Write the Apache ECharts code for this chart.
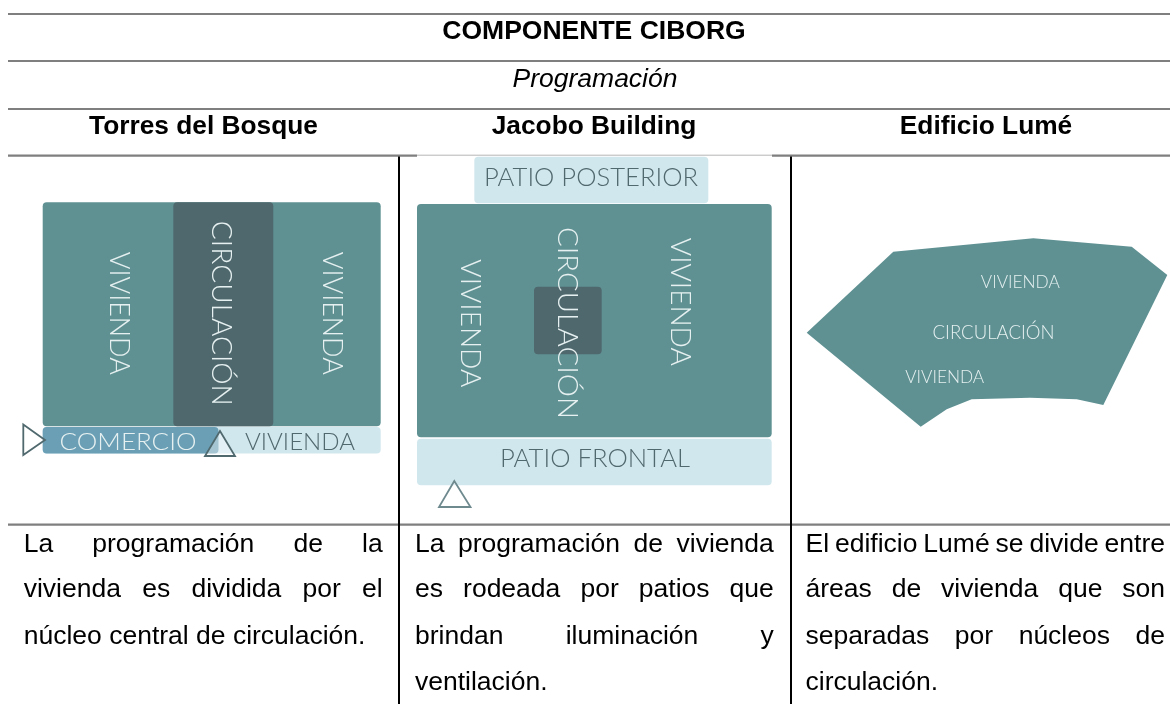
<!DOCTYPE html>
<html><head><meta charset="utf-8">
<style>html,body{margin:0;padding:0;background:#fff}#c{width:1170px;height:704px}</style>
<script src="https://cdn.jsdelivr.net/npm/echarts@6/dist/echarts.min.js"></script>
</head><body><div id="c"></div>
<script>
// ---- content ----
const tableTitle = 'COMPONENTE CIBORG';
const tableSubtitle = 'Programación';
const buildings = ['Torres del Bosque', 'Jacobo Building', 'Edificio Lumé'];
const descriptionTorres = ['La programación de la', 'vivienda es dividida por el', 'núcleo central de circulación.'];
const descriptionJacobo = ['La programación de vivienda', 'es rodeada por patios que', 'brindan iluminación y', 'ventilación.'];
const descriptionLume = ['El edificio Lumé se divide entre', 'áreas de vivienda que son', 'separadas por núcleos de', 'circulación.'];
const lumeOutline = [[806.7,332.7],[893.3,251.7],[1033.3,238.3],[1131.7,246.7],[1167.3,275],[1103.3,405],[1076.7,399.3],[1030,397.7],[971.7,399.3],[946.7,409.3],[920.7,426.7]];

// ---- page geometry (pixel scale of the hidden axes) ----
const W = 1170, H = 704;
const C = {teal:'#5f9193', dark:'#4f686e', light:'#d1e7ee', shop:'#6a9fb6', ink:'#50696e', pale:'#e6f0f0', rule:'#7f7f7f'};
const rects = [
  [42.7,202.3,380.7,426.3,C.teal],[173.3,202.3,273.3,426.3,C.dark],
  [42.7,427,380.7,453.5,C.light],[42.7,427,218.5,453.5,C.shop],
  [474.3,156.7,708.3,203.3,C.light],[417,204,771.7,437.3,C.teal],[534,286.7,601.7,354.3,C.dark],
  [417,438.7,771.7,485.3,C.light],
  [913.3,314,1072.7,348.3,C.dark]
];
const triangles = [
  [[23.3,424.5],[23.3,455],[45,440],C.ink],
  [[220,431],[205,456],[235,456],C.ink],
  [[454.3,481],[439,507],[470.5,507],'#6f8a8f']
];
const rules = [
  [8,14,1170,14,C.rule,2.2],[8,61,1170,61,C.rule,2.2],[8,109,1170,109,C.rule,2.2],
  [8,155.7,417,155.7,C.rule,2.2],[417,155.2,772,155.2,'#b5b5b5',1],[772,155.7,1170,155.7,C.rule,2.2],
  [8,524.7,1170,524.7,C.rule,2.2],
  [399,156.5,399,704,'#000',2],[791,156.5,791,704,'#000',2]
];
const Z = 'VIVIENDA', K = 'CIRCULACIÓN';
// label, centre x, centre y, length, cap height, rotation, colour
const zones = [
  [Z,119,313.3,123,20,-90,C.pale],[K,221,313.3,185,20,-90,C.pale],[Z,332,313.3,123,20,-90,C.pale],
  ['COMERCIO',128,442,137,17,0,C.pale],[Z,300,442,110,17,0,C.ink],
  ['PATIO POSTERIOR',591,177.7,214,18,0,C.ink],[Z,470,323.3,128,20,-90,C.pale],[K,566.7,323,192,20,-90,C.pale],
  [Z,680,301.8,128,20,-90,C.pale],['PATIO FRONTAL',595,458.7,190,18,0,C.ink],
  [Z,1020.3,282.5,79,13,0,C.pale],[K,993.5,332.5,122,13.5,0,C.pale],[Z,944.7,376.8,79,13,0,C.pale]
];

// ---- build draw list ----
const mc = document.createElement('canvas').getContext('2d');
function measure(t, font){ mc.font = font; return mc.measureText(t).width; }
const items = [];
rects.forEach(r => items.push({k:'rect', r}));
items.push({k:'poly', pts:lumeOutline, fill:C.teal});
rules.forEach(r => items.push({k:'line', r}));
triangles.forEach(p => items.push({k:'poly', pts:p.slice(0,3), fill:'rgba(255,255,255,0.4)', stroke:p[3], lw:1.8}));
zones.forEach(z => {
  const font = '300 '+(z[4]/0.72).toFixed(2)+'px Lato';
  items.push({k:'text', t:z[0], x:z[1], y:z[2], rot:z[5], fill:z[6], font, align:'center', sx:z[3]/measure(z[0],font)});
});
const sans = '"Liberation Sans", Arial, sans-serif';
const bodyFont = '26.5px '+sans;
items.push({k:'text', t:tableTitle, x:594, y:31.8, fill:'#000', font:'bold 26.5px '+sans, align:'center'});
items.push({k:'text', t:tableSubtitle, x:595, y:79.5, fill:'#000', font:'italic 26.5px '+sans, align:'center'});
[203.5,594,986].forEach((x,i) => items.push({k:'text', t:buildings[i], x, y:126.8, fill:'#000', font:'bold 26.3px '+sans, align:'center'}));
const lineY = [544.5, 589.5, 636.5, 683];
function para(lines, x0, x1, justify){
  lines.forEach((ln,i) => {
    const words = ln.split(' ');
    const gap = (justify[i] && words.length>1)
      ? (x1-x0-words.reduce((s,w)=>s+measure(w,bodyFont),0))/(words.length-1)
      : measure(' ',bodyFont);
    let x = x0;
    words.forEach(w => {
      items.push({k:'text', t:w, x, y:lineY[i], fill:'#000', font:bodyFont, align:'left'});
      x += measure(w,bodyFont)+gap;
    });
  });
}
para(descriptionTorres, 23.7, 382.7, [1,1,0]);
para(descriptionJacobo, 415, 773.8, [1,1,1,0]);
para(descriptionLume, 805.5, 1165, [1,1,1,0]);

function renderItem(params, api){
  const it = items[params.dataIndex];
  const pt = p => api.coord(p);
  if (it.k==='rect'){
    const a = pt([it.r[0],it.r[1]]), b = pt([it.r[2],it.r[3]]);
    return {type:'rect', shape:{x:a[0],y:a[1],width:b[0]-a[0],height:b[1]-a[1],r:4}, style:{fill:it.r[4]}};
  }
  if (it.k==='poly'){
    return {type:'polygon', shape:{points:it.pts.map(pt)}, style:{fill:it.fill, stroke:it.stroke||null, lineWidth:it.lw||0}};
  }
  if (it.k==='line'){
    const a = pt([it.r[0],it.r[1]]), b = pt([it.r[2],it.r[3]]);
    return {type:'line', shape:{x1:a[0],y1:a[1],x2:b[0],y2:b[1]}, style:{stroke:it.r[4], lineWidth:it.r[5]}};
  }
  const p = pt([it.x,it.y]);
  return {type:'text', x:p[0], y:p[1], rotation:(it.rot||0)*Math.PI/180, scaleX:it.sx||1,
    style:{text:it.t, x:0, y:0, fill:it.fill, font:it.font, align:it.align, verticalAlign:'middle'}};
}

const chart = echarts.init(document.getElementById('c'), null, {renderer:'canvas'});
chart.setOption({
  animation:false, backgroundColor:'#fff',
  grid:{left:0,right:0,top:0,bottom:0},
  xAxis:{type:'value',min:0,max:W,show:false},
  yAxis:{type:'value',min:0,max:H,inverse:true,show:false},
  tooltip:{show:false},
  series:[{type:'custom', coordinateSystem:'cartesian2d', clip:false, silent:true,
    data:items.map((_,i)=>[i]), encode:{x:0}, renderItem}]
});
</script></body></html>
